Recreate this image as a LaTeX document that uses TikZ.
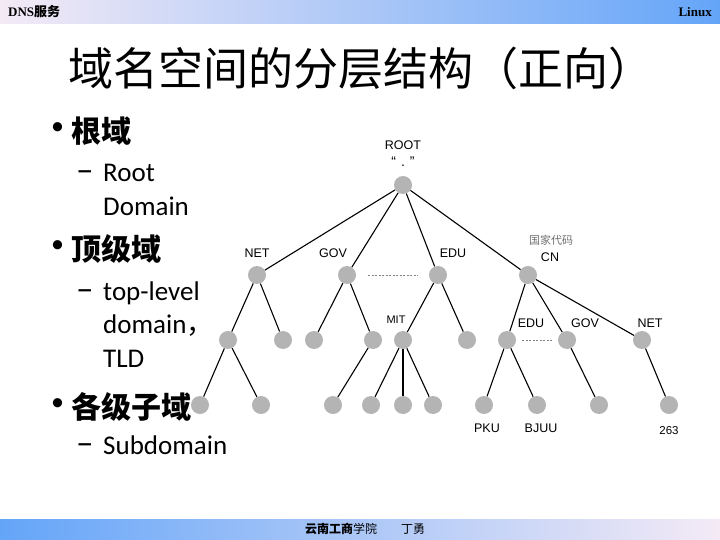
\documentclass[tikz,border=0pt]{standalone}
\usepackage{fontspec}
\setmainfont{Carlito}
\newfontfamily\cjk{Noto Sans CJK SC}
\newfontfamily\arialfont{Liberation Sans}
\newfontfamily\timesfont{Liberation Serif}
\usetikzlibrary{positioning}
\definecolor{dotgray}{RGB}{180,180,180}
\definecolor{barblue}{RGB}{100,165,248}
\definecolor{barpink}{RGB}{244,234,246}
\definecolor{barmid}{RGB}{182,210,242}
\definecolor{labelgray}{RGB}{110,110,110}

\tikzset{
  dot/.style={circle, fill=dotgray, minimum size=18pt, inner sep=0pt},
  lbl/.style={font=\arialfont\fontsize{12.5}{12.5}\selectfont, inner sep=0pt},
  branch/.style={line width=1.1pt},
  bulletmark/.style={anchor=west, inner sep=0pt, font=\fontsize{26}{26}\selectfont},
  headtext/.style={anchor=west, inner sep=0pt, font=\cjk\bfseries\fontsize{30}{30}\selectfont},
  dashmark/.style={anchor=base west, inner sep=0pt, font=\fontsize{35}{35}\selectfont},
  subtext/.style={anchor=base west, inner sep=0pt, font=\fontsize{27}{27}\selectfont},
}

\begin{document}
\begin{tikzpicture}[x=1pt, y=-1pt]
\useasboundingbox (0,0) rectangle (720,540);

% header and footer bars
\shade[left color=barpink, middle color=barmid, right color=barblue] (0,0) rectangle (720,24);
\shade[left color=barblue, middle color=barmid, right color=barpink] (0,519) rectangle (720,540);
\node[anchor=west, inner sep=0pt, font=\fontsize{13}{13}\selectfont] (hdleft) at (8,12) {\timesfont\bfseries DNS\cjk 服务};
\node[anchor=east, inner sep=0pt, font=\timesfont\bfseries\fontsize{13}{13}\selectfont] (hdright) at (712,12) {Linux};
\node[anchor=west, inner sep=0pt, font=\cjk\fontsize{12}{12}\selectfont] (school) at (305,529) {{\bfseries 云南工商}学院};
\node[anchor=west, inner sep=0pt, font=\cjk\fontsize{12}{12}\selectfont] (author) at (401,529) {丁勇};

% title
\node[anchor=west, inner sep=0pt, font=\cjk\fontsize{45}{45}\selectfont] (title) at (68,68) {域名空间的分层结构（正向）};

% bullet list
\node[bulletmark] (b1) at (51,129) {•};
\node[headtext] (h1) at (71,131) {根域};
\node[dashmark] (d1) at (76,182) {–};
\node[subtext] (s1) at (103,182) {Root};
\node[subtext] (s2) at (103,215) {Domain};
\node[bulletmark] (b2) at (51,247) {•};
\node[headtext] (h2) at (71,249) {顶级域};
\node[dashmark] (d2) at (76,300) {–};
\node[subtext] (s3) at (103,300) {top-level};
\node[subtext] (s4) at (103,333) {domain{\cjk ，}};
\node[subtext] (s5) at (103,367) {TLD};
\node[bulletmark] (b3) at (51,405) {•};
\node[headtext] (h3) at (71,407) {各级子域};
\node[dashmark] (d3) at (76,454) {–};
\node[subtext] (s6) at (103,454) {Subdomain};

% tree
\node[dot] (root) at (403,185) {};
\node[dot] (net) at (257,275) {};
\node[dot] (gov) at (347,275) {};
\node[dot] (edu) at (438,275) {};
\node[dot] (cn) at (528,275) {};
\node[dot] (netl) at (228,340) {};
\node[dot] (netr) at (283,340) {};
\node[dot] (govl) at (314,340) {};
\node[dot] (govr) at (373,340) {};
\node[dot] (mit) at (403,340) {};
\node[dot] (edur) at (467,340) {};
\node[dot] (cnedu) at (507,340) {};
\node[dot] (cngov) at (567,340) {};
\node[dot] (cnnet) at (642,340) {};
\node[dot] (netla) at (200,405) {};
\node[dot] (netlb) at (261,405) {};
\node[dot] (govra) at (333,405) {};
\node[dot] (mita) at (371,405) {};
\node[dot] (mitb) at (403,405) {};
\node[dot] (mitc) at (433,405) {};
\node[dot] (pku) at (484,405) {};
\node[dot] (bjuu) at (537,405) {};
\node[dot] (cngova) at (599,405) {};
\node[dot] (cnnet263) at (669,405) {};

\foreach \a/\b in {root/net, root/gov, root/edu, root/cn,
                   net/netl, net/netr, gov/govl, gov/govr, edu/mit, edu/edur,
                   cn/cnedu, cn/cngov, cn/cnnet,
                   netl/netla, netl/netlb, govr/govra,
                   mit/mita, mit/mitb, mit/mitc,
                   cnedu/pku, cnedu/bjuu, cngov/cngova, cnnet/cnnet263}
  \draw[branch] (\a) -- (\b);

% dashed hints
\coordinate (dash1s) at (368,275);
\coordinate (dash1e) at (418,275);
\coordinate (dash2s) at (522,340);
\coordinate (dash2e) at (553,340);
\draw[gray, dashed, dash pattern=on 2pt off 1.5pt, line width=0.6pt] (dash1s) -- (dash1e);
\draw[gray, dashed, dash pattern=on 2pt off 1.5pt, line width=0.6pt] (dash2s) -- (dash2e);

% tree labels
\node[lbl] (lroot) at (403,145) {ROOT};
\node[lbl, font=\arialfont\fontsize{14}{14}\selectfont] (ldot) at (403,162) {“\hspace{5pt}.\hspace{5pt}”};
\node[lbl] (lnet) at (257,253) {NET};
\node[lbl] (lgov) at (333,253) {GOV};
\node[lbl] (ledu) at (453,253) {EDU};
\node[inner sep=0pt, text=labelgray, font=\cjk\fontsize{11}{11}\selectfont] (lcode) at (551,240) {国家代码};
\node[lbl] (lcn) at (550,257) {CN};
\node[lbl, font=\arialfont\fontsize{11}{11}\selectfont] (lmit) at (396,320) {MIT};
\node[lbl] (lcnedu) at (531,323) {EDU};
\node[lbl] (lcngov) at (585,323) {GOV};
\node[lbl] (lcnnet) at (650,323) {NET};
\node[lbl] (lpku) at (487,428) {PKU};
\node[lbl] (lbjuu) at (541,428) {BJUU};
\node[lbl, font=\arialfont\fontsize{11.5}{11.5}\selectfont] (l263) at (669,431) {263};
\end{tikzpicture}
\end{document}
